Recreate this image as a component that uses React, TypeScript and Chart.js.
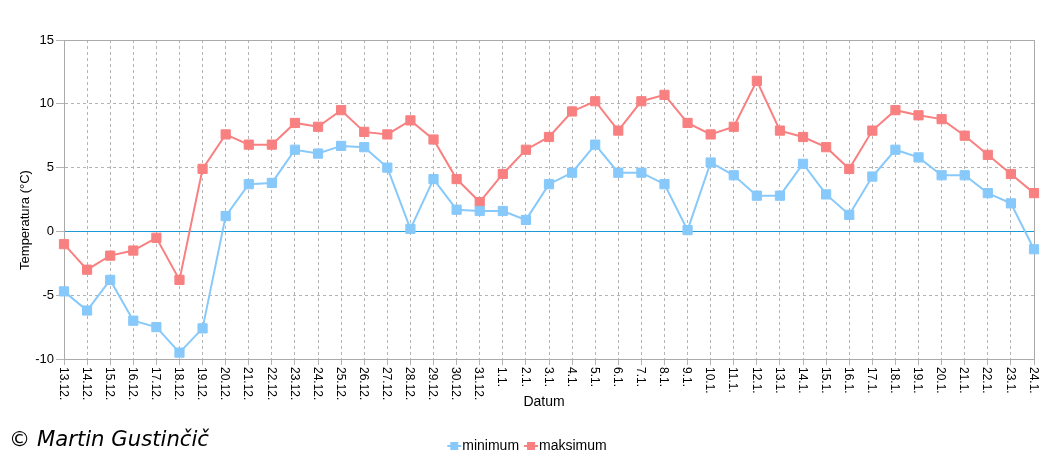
import React, { useEffect, useRef } from "react";
import { Chart, registerables } from "chart.js";

Chart.register(...registerables);

const categories = [
  "13.12.", "14.12.", "15.12.", "16.12.", "17.12.", "18.12.", "19.12.", "20.12.", "21.12.", "22.12.",
  "23.12.", "24.12.", "25.12.", "26.12.", "27.12.", "28.12.", "29.12.", "30.12.", "31.12.",
  "1.1.", "2.1.", "3.1.", "4.1.", "5.1.", "6.1.", "7.1.", "8.1.", "9.1.", "10.1.", "11.1.",
  "12.1.", "13.1.", "14.1.", "15.1.", "16.1.", "17.1.", "18.1.", "19.1.", "20.1.", "21.1.",
  "22.1.", "23.1.", "24.1.",
];

const minimum = [
  -4.7, -6.2, -3.8, -7.0, -7.5, -9.5, -7.6, 1.2, 3.7, 3.8,
  6.4, 6.1, 6.7, 6.6, 5.0, 0.2, 4.1, 1.7, 1.6,
  1.6, 0.9, 3.7, 4.6, 6.8, 4.6, 4.6, 3.7, 0.1, 5.4, 4.4,
  2.8, 2.8, 5.3, 2.9, 1.3, 4.3, 6.4, 5.8, 4.4, 4.4,
  3.0, 2.2, -1.4,
];

const maksimum = [
  -1.0, -3.0, -1.9, -1.5, -0.5, -3.8, 4.9, 7.6, 6.8, 6.8,
  8.5, 8.2, 9.5, 7.8, 7.6, 8.7, 7.2, 4.1, 2.3,
  4.5, 6.4, 7.4, 9.4, 10.2, 7.9, 10.2, 10.7, 8.5, 7.6, 8.2,
  11.8, 7.9, 7.4, 6.6, 4.9, 7.9, 9.5, 9.1, 8.8, 7.5,
  6.0, 4.5, 3.0,
];

const seriesNames = ["minimum", "maksimum"];
const yTitle = "Temperatura (°C)";
const xTitle = "Datum";
const copyright = "© Martin Gustinčič";

const MIN_COLOR = "#87c9fa";
const MAX_COLOR = "#f88080";
const GRID = "#b4b4b4";
const FONT = "'Liberation Sans', Arial, sans-serif";

const overlayPlugin = {
  id: "overlay",
  beforeDatasetsDraw(chart: any) {
    const { ctx, chartArea } = chart;
    ctx.save();
    ctx.strokeStyle = "#aaaaaa";
    ctx.lineWidth = 1;
    ctx.setLineDash([]);
    ctx.beginPath();
    ctx.moveTo(Math.round(chartArea.left) + 0.5, Math.round(chartArea.top) + 0.5);
    ctx.lineTo(Math.round(chartArea.right) + 0.5, Math.round(chartArea.top) + 0.5);
    ctx.lineTo(Math.round(chartArea.right) + 0.5, Math.round(chartArea.bottom) + 0.5);
    ctx.stroke();
    ctx.restore();
  },
  afterDraw(chart: any) {
    const { ctx, chartArea } = chart;
    const xs = chart.scales.x;
    ctx.save();
    ctx.fillStyle = "#000";
    // x tick labels, rotated clockwise
    ctx.font = `12px ${FONT}`;
    ctx.textAlign = "left";
    ctx.textBaseline = "middle";
    categories.forEach((lab, i) => {
      const x = xs.getPixelForTick(i);
      ctx.save();
      ctx.translate(x - 1, chartArea.bottom + 8);
      ctx.rotate(Math.PI / 2);
      ctx.fillText(lab, 0, 0);
      ctx.restore();
    });
    // axis titles
    ctx.font = `14px ${FONT}`;
    ctx.textAlign = "center";
    ctx.fillText(xTitle, 544, 402);
    ctx.save();
    ctx.translate(25, 220);
    ctx.rotate(-Math.PI / 2);
    ctx.font = `13px ${FONT}`;
    ctx.fillText(yTitle, 0, 0);
    ctx.restore();

    // legend
    ctx.font = `14px ${FONT}`;
    ctx.textAlign = "left";
    const items = chart.data.datasets.map((d: any) => ({ label: d.label, color: d.borderColor }));
    const gap = 5;
    const markW = 14;
    const widths = items.map((it: any) => markW + 1 + ctx.measureText(it.label).width);
    const total = widths.reduce((a: number, b: number) => a + b, 0) + gap * (items.length - 1);
    let lx = 527 - total / 2;
    const ly = 446;
    items.forEach((it: any, i: number) => {
      ctx.strokeStyle = it.color;
      ctx.fillStyle = it.color;
      ctx.lineWidth = 2;
      ctx.beginPath();
      ctx.moveTo(lx, ly);
      ctx.lineTo(lx + markW, ly);
      ctx.stroke();
      ctx.fillRect(lx + markW / 2 - 4, ly - 4, 8, 8);
      ctx.fillStyle = "#000";
      ctx.fillText(it.label, lx + markW + 1, ly);
      lx += widths[i] + gap;
    });

    // copyright
    ctx.font = `italic 21px 'DejaVu Sans', sans-serif`;
    ctx.textAlign = "left";
    const w = ctx.measureText(copyright).width;
    ctx.save();
    ctx.translate(9, 441);
    ctx.scale(200 / w, 1);
    ctx.fillText(copyright, 0, 0);
    ctx.restore();
    ctx.restore();
  },
};

export default function App() {
  const ref = useRef<HTMLCanvasElement | null>(null);
  useEffect(() => {
    if (!ref.current) return;
    const chart = new Chart(ref.current, {
      type: "line",
      data: {
        labels: categories,
        datasets: [
          {
            label: seriesNames[0],
            data: minimum,
            borderColor: MIN_COLOR,
            backgroundColor: MIN_COLOR,
            borderWidth: 2,
            pointStyle: "rect",
            pointRadius: 6.5,
            pointBorderWidth: 1,
            pointBackgroundColor: MIN_COLOR,
            pointBorderColor: MIN_COLOR,
            tension: 0,
          },
          {
            label: seriesNames[1],
            data: maksimum,
            borderColor: MAX_COLOR,
            backgroundColor: MAX_COLOR,
            borderWidth: 2,
            pointStyle: "rect",
            pointRadius: 6.5,
            pointBorderWidth: 1,
            pointBackgroundColor: MAX_COLOR,
            pointBorderColor: MAX_COLOR,
            tension: 0,
          },
        ],
      },
      options: {
        animation: false,
        responsive: false,
        maintainAspectRatio: false,
        layout: { padding: { top: 40, right: 21, left: 0, bottom: 0 } },
        plugins: {
          legend: { display: false },
          tooltip: { enabled: false },
        },
        scales: {
          x: {
            offset: false,
            afterFit: (s: any) => {
              s.height = 101;
            },
            ticks: { display: false },
            grid: {
              color: GRID,
              drawTicks: true,
              tickLength: 6,
              tickColor: GRID,
              tickBorderDash: [],
            },
            border: { display: true, color: "#aaaaaa", width: 1, dash: [3, 3] },
          },
          y: {
            min: -10,
            max: 15,
            afterFit: (s: any) => {
              s.width = 64;
            },
            ticks: {
              stepSize: 5,
              color: "#000",
              padding: 2,
              font: { family: FONT, size: 13 },
            },
            grid: {
              color: (c: any) => (c.tick && c.tick.value === 0 ? "#1a9ad6" : GRID),
              tickColor: GRID,
              tickLength: 8,
              tickBorderDash: [],
              lineWidth: 1,
            },
            border: {
              display: true,
              color: "#aaaaaa",
              width: 1,
              dash: (c: any) => (c.tick && c.tick.value === 0 ? [] : [3, 3]),
            },
          },
        },
      },
      plugins: [overlayPlugin],
    });
    return () => chart.destroy();
  }, []);
  return (
    <div style={{ position: "fixed", left: 0, top: 0, width: 1055, height: 460, background: "#fff" }}>
      <canvas ref={ref} width={1055} height={460} style={{ width: 1055, height: 460, display: "block" }} />
    </div>
  );
}
